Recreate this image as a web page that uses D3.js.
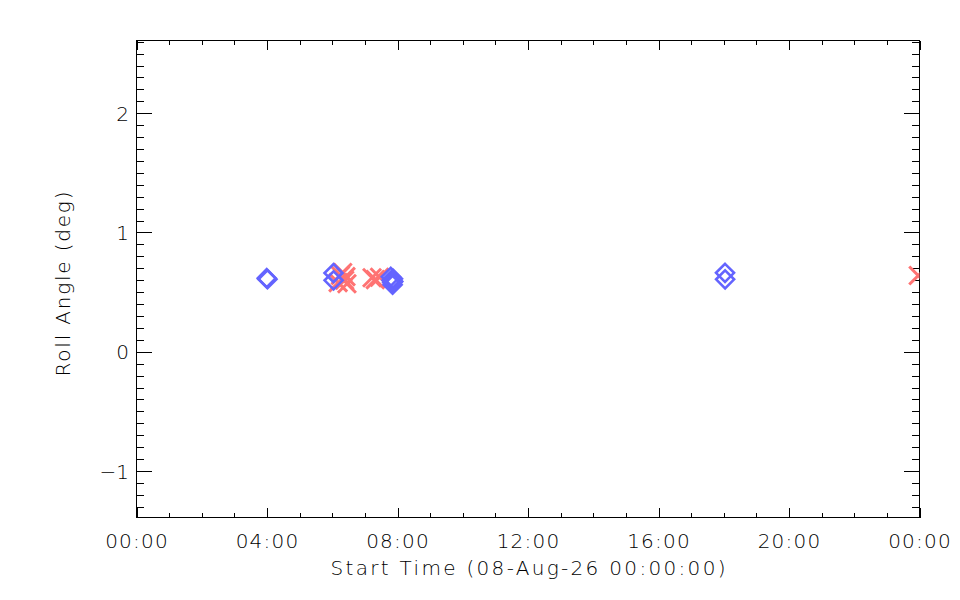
<!DOCTYPE html>
<html>
<head>
<meta charset="utf-8">
<script src="https://cdn.jsdelivr.net/npm/d3@7"></script>
<style>
    body { margin: 0; background: #fff; }
    text { font-family: "DejaVu Sans ExtraLight", "DejaVu Sans", sans-serif; font-weight: 200; fill: #000; }
</style>
</head>
<body>
<svg id="chart" width="960" height="600"></svg>
<script>
// diamonds (blue) and crosses (red), start time on 08-Aug-26
var blueTimes = ['03:59:30', '04:00:50', '06:02:20', '06:02:30', '07:47:40', '07:49:10',
                 '07:50:20', '07:51:40', '07:51:00', '07:52:10', '18:02:20', '18:02:30'];
var blueRoll = [0.617, 0.608, 0.660, 0.599, 0.628, 0.600, 0.580, 0.612, 0.562, 0.590, 0.662, 0.607];

var redTimes = ['06:10:50', '06:15:00', '06:19:10', '06:22:50', '06:27:00', '06:25:10',
                '07:13:10', '07:19:10', '07:27:00', '23:57:40'];
var redRoll = [0.580, 0.640, 0.665, 0.600, 0.570, 0.630, 0.620, 0.605, 0.625, 0.639];

var xTickLabels = ['00:00', '04:00', '08:00', '12:00', '16:00', '20:00', '00:00'];
var yTickValues = [-1, 0, 1, 2];
var yTickLabels = ['\u22121', '0', '1', '2'];
var yDomain = [-1.39, 2.61];

var translate = function(x, y) {
        return 'translate(' + x + ', ' + y + ')';
    },
    margin = {top: 40.5, left: 136.5},
    width = 783,
    height = 477,
    majorX = 0.02 * height,
    majorY = 0.02 * width,
    blue = '#6464ff',
    red = '#ff7373';

var svg = d3.select('#chart'),
    g = svg.append('g').attr('transform', translate(margin.left, margin.top));

var parse = d3.utcParse('%Y-%m-%d %H:%M:%S'),
    t0 = parse('2026-08-08 00:00:00'),
    t1 = d3.utcDay.offset(t0, 1),
    toDate = function(s) { return parse('2026-08-08 ' + s); };

var x = d3.scaleUtc().domain([t0, t1]).range([0, width]),
    y = d3.scaleLinear().domain(yDomain).range([height, 0]);

// ticks on all four sides, pointing inward
function addAxis(axis, tx, ty) {
    var a = g.append('g').attr('transform', translate(tx, ty)).call(axis);
    a.select('.domain').remove();
    a.attr('font-family', null).attr('font-size', null);
    a.selectAll('line').attr('stroke', '#000').attr('shape-rendering', 'crispEdges');
    return a;
}

var xMajor = d3.utcHour.every(4), xMinor = d3.utcHour.every(1);

var bottom = addAxis(d3.axisBottom(x).ticks(xMajor).tickSize(-majorX)
        .tickFormat(function(d, i) { return xTickLabels[i]; }), 0, height);
bottom.selectAll('text')
    .attr('y', 30.5).attr('dy', null)
    .style('font-size', '20px').style('letter-spacing', '1.2px');
addAxis(d3.axisBottom(x).ticks(xMinor).tickSize(-majorX / 2).tickFormat(''), 0, height);
addAxis(d3.axisTop(x).ticks(xMajor).tickSize(-majorX).tickFormat(''), 0, 0);
addAxis(d3.axisTop(x).ticks(xMinor).tickSize(-majorX / 2).tickFormat(''), 0, 0);

var left = addAxis(d3.axisLeft(y).tickValues(yTickValues).tickSize(-majorY)
        .tickFormat(function(d, i) { return yTickLabels[i]; }), 0, 0);
left.selectAll('text')
    .attr('x', -7.5).attr('dy', '0.36em')
    .style('font-size', '20px');
addAxis(d3.axisLeft(y).ticks(40).tickSize(-majorY / 2).tickFormat(''), 0, 0);
addAxis(d3.axisRight(y).tickValues(yTickValues).tickSize(-majorY).tickFormat(''), width, 0);
addAxis(d3.axisRight(y).ticks(40).tickSize(-majorY / 2).tickFormat(''), width, 0);

g.append('rect')
    .attr('width', width).attr('height', height)
    .attr('fill', 'none').attr('stroke', '#000')
    .attr('shape-rendering', 'crispEdges');

// titles
svg.append('text')
    .attr('x', margin.left + width / 2).attr('y', 575)
    .attr('text-anchor', 'middle')
    .attr('textLength', 395).attr('lengthAdjust', 'spacing')
    .style('font-size', '20px')
    .text('Start Time (08-Aug-26 00:00:00)');

svg.append('text')
    .attr('transform', translate(70, 284) + ' rotate(-90)')
    .attr('text-anchor', 'middle')
    .attr('textLength', 185).attr('lengthAdjust', 'spacing')
    .style('font-size', '20px')
    .text('Roll Angle (deg)');

// markers, clipped to the plot box
svg.append('clipPath').attr('id', 'plotClip')
    .append('rect').attr('width', width).attr('height', height);

var marks = g.append('g').attr('clip-path', 'url(#plotClip)'),
    s = 9;

var redData = redTimes.map(function(t, i) { return {t: toDate(t), v: redRoll[i]}; }),
    blueData = blueTimes.map(function(t, i) { return {t: toDate(t), v: blueRoll[i]}; });

marks.selectAll('path.cross')
    .data(redData).enter().append('path')
    .attr('class', 'cross')
    .attr('transform', function(d) { return translate(x(d.t), y(d.v)); })
    .attr('d', 'M' + (-s) + ',' + (-s) + 'L' + s + ',' + s + 'M' + (-s) + ',' + s + 'L' + s + ',' + (-s))
    .attr('fill', 'none')
    .attr('stroke', red)
    .attr('stroke-width', 3);

marks.selectAll('path.diamond')
    .data(blueData).enter().append('path')
    .attr('class', 'diamond')
    .attr('transform', function(d) { return translate(x(d.t), y(d.v)); })
    .attr('d', 'M0,' + (-s) + 'L' + s + ',0L0,' + s + 'L' + (-s) + ',0Z')
    .attr('fill', 'none')
    .attr('stroke', blue)
    .attr('stroke-width', 2.6);
</script>
</body>
</html>
